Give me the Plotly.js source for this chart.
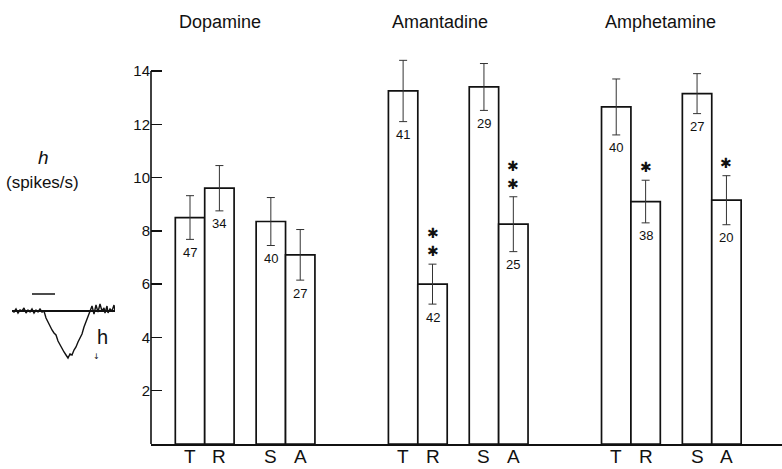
<!DOCTYPE html>
<html>
<head>
<meta charset="utf-8">
<script src="https://cdn.plot.ly/plotly-3.0.1.min.js"></script>
<style>html,body{margin:0;padding:0;background:#fff;}#chart{width:782px;height:469px;}</style>
</head>
<body>
<div id="chart"></div>
<script>
// ---- data ----
const drugs = ["Dopamine", "Amantadine", "Amphetamine"];
const conditions = ["T", "R", "S", "A"];
const dopamineMean = [8.5, 9.6, 8.35, 7.1];
const dopamineSem = [0.82, 0.85, 0.9, 0.95];
const dopamineN = [47, 34, 40, 27];
const dopamineSig = ["", "", "", ""];
const amantadineMean = [13.25, 6.0, 13.4, 8.25];
const amantadineSem = [1.15, 0.75, 0.88, 1.03];
const amantadineN = [41, 42, 29, 25];
const amantadineSig = ["", "**", "", "**"];
const amphetamineMean = [12.65, 9.1, 13.15, 9.15];
const amphetamineSem = [1.05, 0.8, 0.75, 0.92];
const amphetamineN = [40, 38, 27, 20];
const amphetamineSig = ["", "*", "", "*"];
const yTicks = [2, 4, 6, 8, 10, 12, 14];
// inset illustration: example response trace (time, rate change)
const traceT = [0,2,4,6,8,10,12,14,16,18,20,22,24,26,28,30,32,34,36,38,40,42,44,46,48,50,52,54,56,58,60,62,64,66,68,70,72,74,76,78,80,82,84,86,88,90,92,93,95,96,98,100,102,103];
const traceV = [0,-1,2,-2,1,0,3,-2,1,-1,2,-2,1,-1,2,-1,0,-7,-11,-16,-19,-22,-24,-30,-34,-37,-41,-44,-47,-43,-44,-39,-36,-31,-27,-23,-16,-11,-5,0,5,-3,6,-1,7,0,3,-2,5,-2,2,0,6,0];
const stimBar = [20, 43];

// ---- layout helpers ----
const slot = [0, 1, 2.75, 3.75];
const groupStep = 7.25;
const yMaxAxis = 14;      // axis line ends here
const yTop = 14.6;        // room for error bars above the axis end
const plotH = 389;        // px of plot area for [0, yTop]
const baseY = 444;        // px of y = 0
const means = [dopamineMean, amantadineMean, amphetamineMean];
const sems = [dopamineSem, amantadineSem, amphetamineSem];
const ns = [dopamineN, amantadineN, amphetamineN];
const sigs = [dopamineSig, amantadineSig, amphetamineSig];
const py = (px) => (baseY - px) / plotH;

const xs = [], ys = [], es = [];
const annotations = [];
const font = "Liberation Sans, Arial, sans-serif";
drugs.forEach((d, g) => {
  conditions.forEach((c, i) => {
    const x = g * groupStep + slot[i];
    xs.push(x); ys.push(means[g][i]); es.push(sems[g][i]);
    annotations.push({x: x, y: 0, xref: 'x', yref: 'paper', text: c, showarrow: false,
      xanchor: 'center', yanchor: 'middle', yshift: -12,
      font: {family: font, size: 19, color: '#111'}});
    annotations.push({x: x, y: means[g][i] - sems[g][i], xref: 'x', yref: 'y',
      text: String(ns[g][i]), showarrow: false, yanchor: 'middle', yshift: -13,
      font: {family: font, size: 13, color: '#111'}});
    const s = sigs[g][i];
    if (s.length) {
      annotations.push({x: x, y: means[g][i] + sems[g][i], xref: 'x', yref: 'y',
        text: s.split('').map(() => '✱').join('<br>'), showarrow: false, yanchor: 'bottom', yshift: 3,
        font: {family: 'DejaVu Sans', size: 14, color: '#111'}});
    }
  });
  annotations.push({x: g * groupStep - 0.45, y: py(22), xref: 'x', yref: 'paper',
    text: d, showarrow: false, xanchor: 'left', yanchor: 'middle',
    font: {family: font, size: 18, color: '#111'}});
});
annotations.push({x: 43/782, y: py(157), xref: 'paper', yref: 'paper', text: '<i>h</i>',
  showarrow: false, xanchor: 'center', yanchor: 'middle', font: {family: font, size: 19, color: '#111'}});
annotations.push({x: 42/782, y: py(182), xref: 'paper', yref: 'paper', text: '(spikes/s)',
  showarrow: false, xanchor: 'center', yanchor: 'middle', font: {family: font, size: 17, color: '#111'}});
annotations.push({x: 90, y: -26, xref: 'x2', yref: 'y2', text: 'h', showarrow: false,
  xanchor: 'center', yanchor: 'middle', font: {family: font, size: 20, color: '#111'}});
annotations.push({x: 84, y: -45, xref: 'x2', yref: 'y2', text: '↓', showarrow: false,
  xanchor: 'center', yanchor: 'middle', font: {family: 'DejaVu Sans', size: 8, color: '#111'}});

const bars = {
  type: 'bar', x: xs, y: ys, width: 1, cliponaxis: false,
  marker: {color: '#ffffff', line: {color: '#111', width: 1.7}},
  error_y: {type: 'data', array: es, visible: true, color: '#333', thickness: 1, width: 4},
  hoverinfo: 'skip', showlegend: false
};
const trace = {type: 'scatter', mode: 'lines', x: traceT, y: traceV, xaxis: 'x2', yaxis: 'y2',
  line: {color: '#111', width: 1.4}, showlegend: false, hoverinfo: 'skip'};
const baseLine = {type: 'scatter', mode: 'lines', x: [traceT[0], traceT[traceT.length-1]], y: [0, 0],
  xaxis: 'x2', yaxis: 'y2', line: {color: '#111', width: 2}, showlegend: false, hoverinfo: 'skip'};
const stim = {type: 'scatter', mode: 'lines', x: stimBar, y: [17, 17],
  xaxis: 'x2', yaxis: 'y2', line: {color: '#111', width: 1.5}, showlegend: false, hoverinfo: 'skip'};

const layout = {
  width: 782, height: 469,
  margin: {l: 0, r: 0, t: 469 - 25 - plotH, b: 25},
  paper_bgcolor: '#fff', plot_bgcolor: '#fff',
  font: {family: font, color: '#111'},
  xaxis: {domain: [151/782, 1], range: [-1.327, 20.14], showticklabels: false,
    showgrid: false, zeroline: false, showline: true, linecolor: '#111', linewidth: 1.6,
    ticks: '', fixedrange: true},
  yaxis: {range: [0, yTop], tickvals: yTicks, showgrid: false, zeroline: false, showline: false,
    ticks: 'inside', ticklen: 11, tickwidth: 1.5, tickcolor: '#111',
    tickfont: {family: font, size: 15, color: '#111'}, anchor: 'x', fixedrange: true},
  xaxis2: {domain: [12/782, 115/782], range: [0, 103], visible: false, anchor: 'y2'},
  yaxis2: {domain: [py(362), py(290)], range: [-51, 21], visible: false, anchor: 'x2'},
  shapes: [{type: 'line', xref: 'paper', yref: 'y', x0: 151/782, x1: 151/782, y0: 0, y1: yMaxAxis,
    line: {color: '#111', width: 1.6}}],
  annotations: annotations,
  bargap: 0
};
Plotly.newPlot('chart', [bars, trace, baseLine, stim], layout, {displayModeBar: false, staticPlot: true});
</script>
</body>
</html>
